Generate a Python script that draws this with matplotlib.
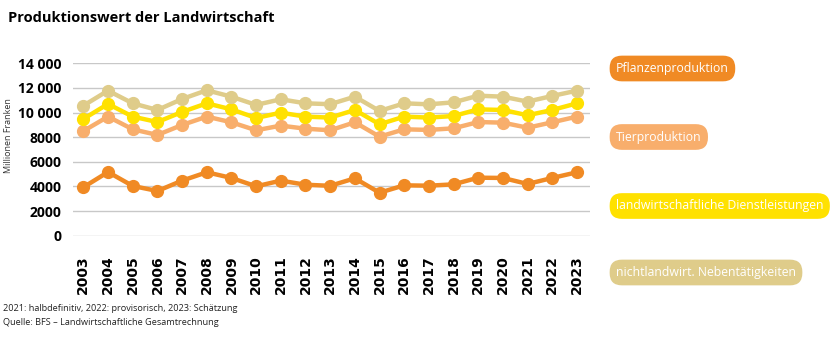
import numpy as np
import matplotlib
matplotlib.use('Agg')
import matplotlib.pyplot as plt

plt.rcParams['font.family'] = ['Open Sans', 'DejaVu Sans']

years = list(range(2003, 2024))

# Produktionswert in Mio. Franken (gestapelte Komponenten)
pflanzen = [3930, 5170, 4040, 3630, 4470, 5150, 4690, 4010, 4470, 4140, 4050,
            4660, 3490, 4090, 4060, 4170, 4710, 4690, 4200, 4690, 5150]
tier = [4570, 4500, 4600, 4550, 4520, 4520, 4520, 4550, 4470, 4550, 4510,
        4550, 4550, 4550, 4530, 4550, 4520, 4490, 4570, 4520, 4520]
dienst = [980, 1030, 1030, 1050, 1060, 1080, 1050, 1000, 1050, 980, 1030,
          1000, 1010, 1030, 1000, 1000, 1030, 1030, 1010, 1000, 1080]
neben = [1080, 1080, 1080, 980, 1050, 1060, 1030, 1060, 1090, 1080, 1090,
         1080, 1080, 1080, 1080, 1110, 1110, 1080, 1110, 1140, 1030]

names = ['Pflanzenproduktion', 'Tierproduktion',
         'landwirtschaftliche Dienstleistungen', 'nichtlandwirt. Nebentätigkeiten']
colors = ['#F08A24', '#F8AE6C', '#FFE100', '#DFCC8A']

yticks = [0, 2000, 4000, 6000, 8000, 10000, 12000, 14000]
ytick_labels = ['0', '2000', '4000', '6000', '8000', '10 000', '12 000', '14 000']

fig = plt.figure(figsize=(8.36, 3.38), dpi=100)
ax = fig.add_axes([0.0873, 0.3027, 0.6185, 0.51])

stacked = np.cumsum([pflanzen, tier, dienst, neben], axis=0)
for vals, col in zip(stacked, colors):
    ax.plot(years, vals, color=col, lw=3.2, marker='o', ms=8.5,
            solid_joinstyle='round', clip_on=False, zorder=3)

ax.set_ylim(0, 14000)
ax.set_xlim(2003 - 0.42, 2023 + 0.53)
ax.set_yticks(yticks)
ax.set_yticklabels(ytick_labels, fontsize=10, fontweight='bold')
ax.set_xticks(years)
ax.set_xticklabels([str(y) for y in years], rotation=90, fontsize=10,
                   fontweight='bold', family='DejaVu Sans')
ax.tick_params(axis='both', length=0)
ax.tick_params(axis='x', pad=14)
ax.tick_params(axis='y', pad=8)
ax.grid(axis='y', color='#c8c8c8', lw=1)
ax.set_axisbelow(True)
for s in ax.spines.values():
    s.set_visible(False)

fig.text(0.0096, 0.6, 'Millionen Franken', rotation=90, fontsize=6.5,
         va='center', ha='center', color='#333333')

fig.text(0.009, 0.947, 'Produktionswert der Landwirtschaft', fontsize=10.5,
         fontweight='bold', va='center', ha='left')

fig.text(0.003, 0.0858, '2021: halbdefinitiv, 2022: provisorisch, 2023: Schätzung',
         fontsize=6.6, va='center', ha='left', color='#222222')
fig.text(0.003, 0.0473, 'Quelle: BFS – Landwirtschaftliche Gesamtrechnung',
         fontsize=6.6, va='center', ha='left', color='#222222')

# Legende als farbige "Pillen"
pill_y = [68.5, 137, 206, 272.5]
for name, col, py in zip(names, colors, pill_y):
    fig.text(616 / 836, 1 - py / 338, name, fontsize=8.8, color='white',
             va='center', ha='left',
             bbox=dict(boxstyle='round,pad=0.52,rounding_size=1.0', fc=col, ec='none'))

fig.savefig('out.png', dpi=100)
